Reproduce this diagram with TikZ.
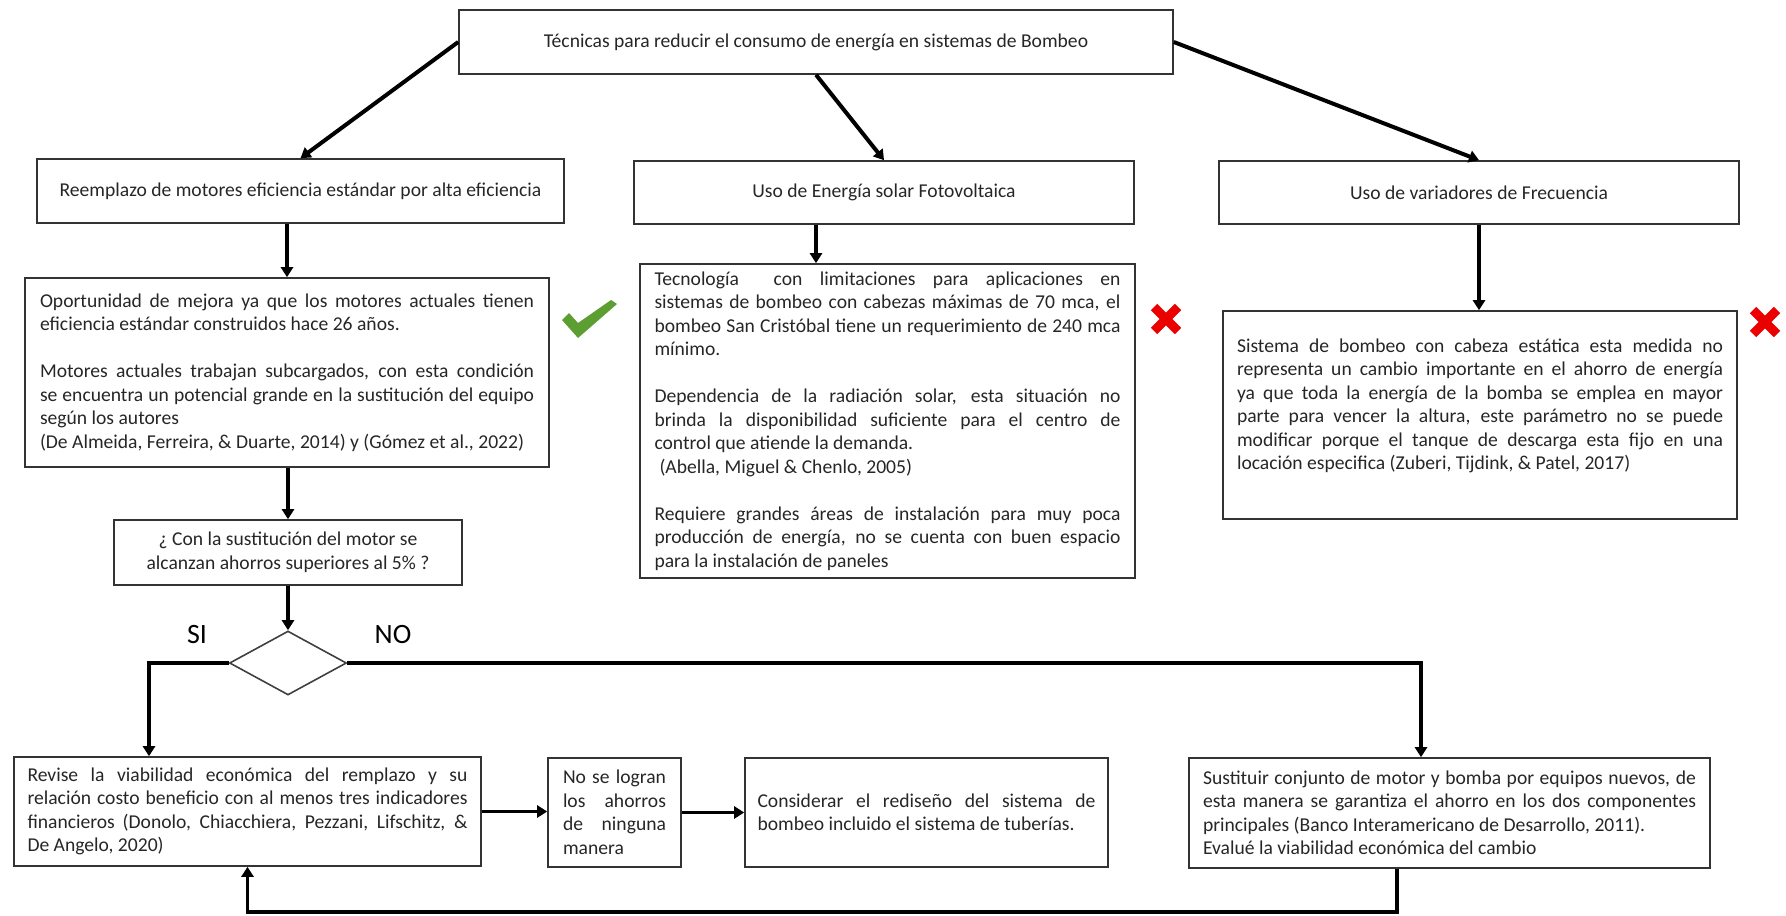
\documentclass[tikz,border=0pt]{standalone}
\usepackage{fontspec}
\setmainfont{Carlito}
\usetikzlibrary{shapes.geometric,arrows.meta}
\definecolor{verdeok}{RGB}{92,158,50}
\definecolor{rojono}{RGB}{235,0,0}
\tikzset{>={Triangle[length=5pt,width=6pt]},
  every node/.style={inner sep=0pt, text=black!85, font=\fontsize{9.8}{11.75}\selectfont},
  caja/.style={draw=black!80, line width=0.8pt},
  parrafo/.style={caja, align=justify},
  flecha/.style={->, line width=1.6pt},
  diagonal/.style={->, line width=2pt},
  rombo/.style={draw=black!75, line width=0.8pt, diamond},
  rotulo/.style={font=\fontsize{14}{16}\selectfont, text=black},
  cruz/.style={rojono, line width=4.5pt}}

\begin{document}
\begin{tikzpicture}[x=0.5pt,y=-0.5pt]
  \useasboundingbox (0,0) rectangle (1786,915);
  \node[caja, minimum width=357pt, minimum height=32pt] (tecnicas) at (816,42)
    {Técnicas para reducir el consumo de energía en sistemas de Bombeo};
  \node[caja, minimum width=263.5pt, minimum height=32pt] (motores) at (300.5,191)
    {Reemplazo de motores eficiencia estándar por alta eficiencia};
  \node[caja, minimum width=250pt, minimum height=31.5pt] (solar) at (884,192.5)
    {Uso de Energía solar Fotovoltaica};
  \node[caja, minimum width=260pt, minimum height=31.5pt] (variadores) at (1479,192.5)
    {Uso de variadores de Frecuencia};

  \node[parrafo, minimum width=262pt, minimum height=94.5pt, text width=247pt] (mejora) at (287,372.5)
    {Oportunidad de mejora ya que los motores actuales tienen\linebreak
     eficiencia estándar construidos hace 26 años.\par\vspace{11.75pt}
     Motores actuales trabajan subcargados, con esta condición\linebreak
     se encuentra un potencial grande en la sustitución del equipo\linebreak
     según los autores\par
     (De Almeida, Ferreira, \& Duarte, 2014) y (Gómez et al., 2022)};
  \node[parrafo, minimum width=247.5pt, minimum height=157pt, text width=233pt] (tecnologia) at (887.5,421)
    {Tecnología\ \ con limitaciones para aplicaciones en\linebreak
     sistemas de bombeo con cabezas máximas de 70 mca, el\linebreak
     bombeo San Cristóbal tiene un requerimiento de 240 mca\linebreak
     mínimo.\par\vspace{11.75pt}
     Dependencia de la radiación solar, esta situación no\linebreak
     brinda la disponibilidad suficiente para el centro de\linebreak
     control que atiende la demanda.\par
     \hspace*{2.5pt}(Abella, Miguel \& Chenlo, 2005)\par\vspace{11.75pt}
     Requiere grandes áreas de instalación para muy poca\linebreak
     producción de energía, no se cuenta con buen espacio\linebreak
     para la instalación de paneles};
  \node[parrafo, minimum width=257pt, minimum height=104pt, text width=243pt] (sistema) at (1480,415)
    {Sistema de bombeo con cabeza estática esta medida no\linebreak
     representa un cambio importante en el ahorro de energía\linebreak
     ya que toda la energía de la bomba se emplea en mayor\linebreak
     parte para vencer la altura, este parámetro no se puede\linebreak
     modificar porque el tanque de descarga esta fijo en una\linebreak
     locación especifica (Zuberi, Tijdink, \& Patel, 2017)\par\vspace{9pt}};

  \node[caja, minimum width=174pt, minimum height=32.5pt, align=center] (pregunta) at (288,552.5)
    {¿ Con la sustitución del motor se\\alcanzan ahorros superiores al 5\% ?};
  \node[rombo, minimum width=58.5pt, minimum height=32pt] (decision) at (288,663) {};
  \node[rotulo] (si) at (197,635) {SI};
  \node[rotulo] (no) at (393,635) {NO};

  \node[parrafo, minimum width=233.5pt, minimum height=54.5pt, text width=220pt] (revise) at (247.5,811.5)
    {Revise la viabilidad económica del remplazo y su\linebreak
     relación costo beneficio con al menos tres indicadores\linebreak
     financieros (Donolo, Chiacchiera, Pezzani, Lifschitz, \&\linebreak
     De Angelo, 2020)};
  \node[parrafo, minimum width=66.5pt, minimum height=54.5pt, text width=51.5pt] (nologran) at (614.5,812.5)
    {No se logran\linebreak los ahorros\linebreak de ninguna\linebreak manera};
  \node[parrafo, minimum width=181.5pt, minimum height=54.5pt, text width=169pt] (considerar) at (926.5,812.5)
    {Considerar el rediseño del sistema de\linebreak
     bombeo incluido el sistema de tuberías.};
  \node[parrafo, minimum width=260.5pt, minimum height=55pt, text width=246.5pt] (sustituir) at (1449.5,813)
    {Sustituir conjunto de motor y bomba por equipos nuevos, de\linebreak
     esta manera se garantiza el ahorro en los dos componentes\linebreak
     principales (Banco Interamericano de Desarrollo, 2011).\par
     Evalué la viabilidad económica del cambio};

  \coordinate (ladosi) at (149,663);
  \coordinate (ladono) at (1421,663);
  \coordinate (retorno) at (1397,912);

  \draw[diagonal] (tecnicas.west) -- (motores.north);
  \draw[diagonal] (tecnicas.south) -- (solar.north);
  \draw[diagonal] (tecnicas.east) -- (variadores.north);
  \draw[flecha] (motores.south -| mejora.north) -- (mejora.north);
  \draw[flecha] (solar.south -| tecnicas.south) -- (tecnicas.south |- tecnologia.north);
  \draw[flecha] (variadores.south) -- (variadores.south |- sistema.north);
  \draw[flecha] (mejora.south -| pregunta.north) -- (pregunta.north);
  \draw[flecha] (pregunta.south) -- (decision.north);
  \draw[flecha] (decision.west) -- (ladosi) -- (ladosi |- revise.north);
  \draw[flecha] (decision.east) -- (ladono) -- (ladono |- sustituir.north);
  \draw[flecha] (revise.east) -- (revise.east -| nologran.west);
  \draw[flecha] (nologran.east) -- (nologran.east -| considerar.west);
  \draw[flecha] (sustituir.south -| retorno) -- (retorno) -| (revise.south);

  \fill[verdeok] (562,320) -- (569,313) -- (578,323) -- (611,300) -- (617,304) -- (578,338) -- cycle;
  \draw[cruz] (1154,307) -- (1178,331) (1178,307) -- (1154,331);
  \draw[cruz] (1753,310) -- (1777,334) (1777,310) -- (1753,334);
\end{tikzpicture}
\end{document}
